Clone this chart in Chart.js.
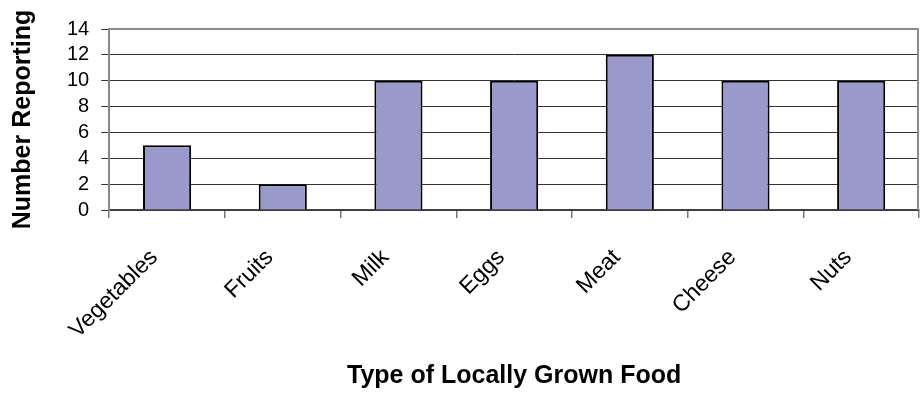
<!DOCTYPE html>
<html>
<head>
<meta charset="utf-8">
<script src="https://cdn.jsdelivr.net/npm/chart.js@4.4.1/dist/chart.umd.min.js"></script>
<style>
  html, body { margin: 0; padding: 0; background: #fff; }
  #wrap { width: 922px; height: 394px; }
</style>
</head>
<body>
<div id="wrap"><canvas id="foodChart"></canvas></div>
<script>
const foods = ["Vegetables", "Fruits", "Milk", "Eggs", "Meat", "Cheese", "Nuts"];
const reporting = [5, 2, 10, 10, 12, 10, 10];
const yTicks = [0, 2, 4, 6, 8, 10, 12, 14];

const FONT = "Liberation Sans, Arial, sans-serif";

// gray frame round the plot area (top and right edges)
const plotFrame = {
    id: "plotFrame",
    beforeDatasetsDraw(chart) {
        const { ctx, chartArea: a } = chart;
        ctx.save();
        ctx.strokeStyle = "#8c8c8c";
        ctx.lineWidth = 2;
        ctx.beginPath();
        ctx.moveTo(a.left, a.top);
        ctx.lineTo(a.right - 1, a.top);
        ctx.lineTo(a.right - 1, a.bottom);
        ctx.stroke();
        ctx.restore();
    }
};

new Chart(document.getElementById("foodChart"), {
    type: "bar",
    data: {
        labels: foods,
        datasets: [{
            label: "Number Reporting",
            data: reporting,
            backgroundColor: "#9999cc",
            borderColor: "#000",
            borderWidth: 2,
            categoryPercentage: 1,
            barPercentage: 0.416
        }]
    },
    options: {
        responsive: true,
        maintainAspectRatio: false,
        animation: false,
        layout: { padding: { left: 0, right: 3, top: 29, bottom: 3 } },
        plugins: { legend: { display: false }, tooltip: { enabled: false } },
        scales: {
            x: {
                border: { color: "#444", width: 1.5 },
                grid: { offset: true, drawOnChartArea: false, tickLength: 8, color: "#777", lineWidth: 1.5 },
                ticks: {
                    minRotation: 45, maxRotation: 45,
                    autoSkip: false,
                    color: "#000",
                    font: { family: FONT, size: 23 },
                    padding: 26,
                    labelOffset: -13
                },
                title: {
                    display: true,
                    text: "Type of Locally Grown Food",
                    color: "#000",
                    font: { family: FONT, size: 25, weight: "bold" },
                    padding: { top: 20, bottom: 0 }
                }
            },
            y: {
                min: 0, max: 14,
                afterBuildTicks(axis) { axis.ticks = yTicks.map(v => ({ value: v })); },
                border: { color: "#888", width: 2 },
                grid: { color: "#333", lineWidth: 1, tickLength: 8 },
                ticks: {
                    autoSkip: false,
                    color: "#000",
                    font: { family: FONT, size: 20 },
                    padding: 12
                },
                title: {
                    display: true,
                    text: "Number Reporting",
                    color: "#000",
                    font: { family: FONT, size: 25, weight: "bold" },
                    padding: { top: 8, bottom: 17 }
                }
            }
        }
    },
    plugins: [plotFrame]
});
</script>
</body>
</html>
